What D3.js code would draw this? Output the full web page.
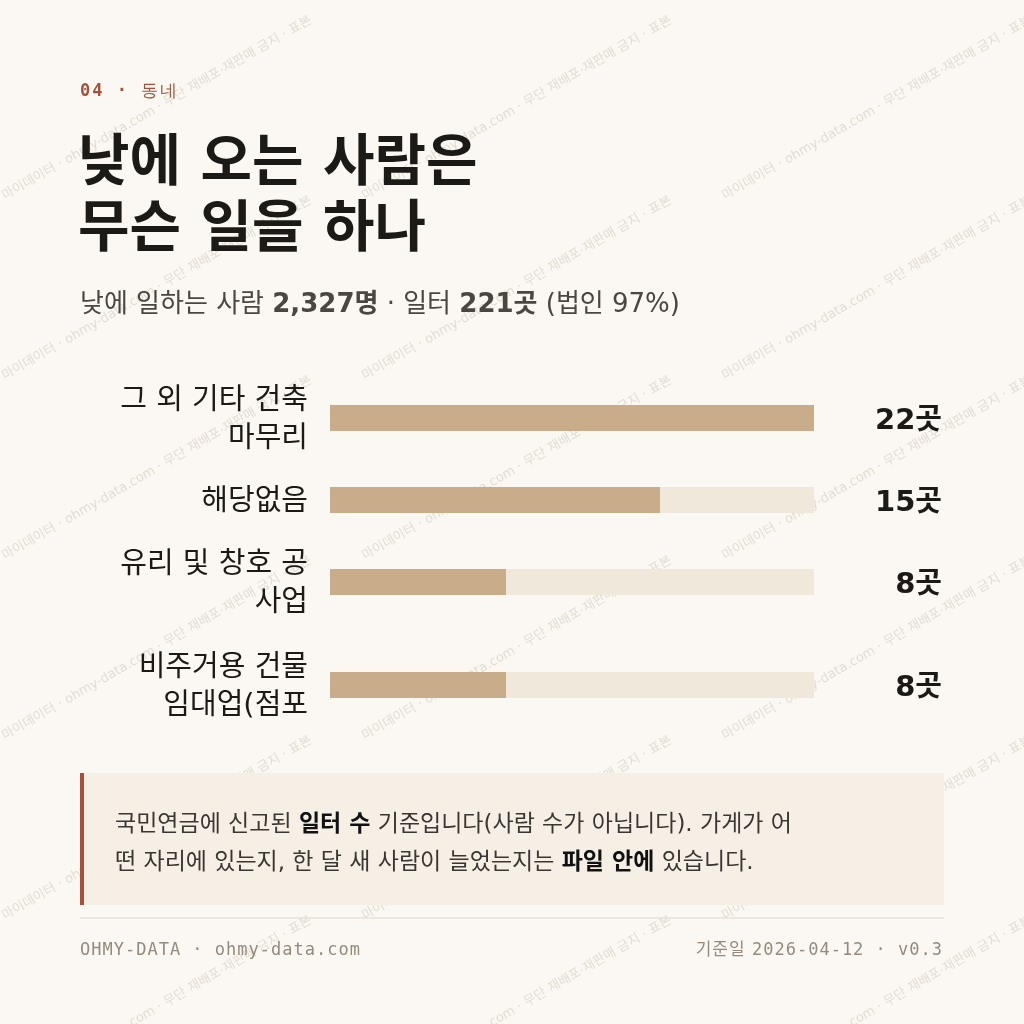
<!DOCTYPE html>
<html><head><meta charset="utf-8">
<script src="https://cdn.jsdelivr.net/npm/d3@7"></script>
<style>
body{margin:0;background:#fbf8f3;font-family:"DejaVu Sans","Noto Sans CJK KR",sans-serif;}
</style></head>
<body><div id="chart"></div>
<script>
// data
var categories = [["그 외 기타 건축", "마무리"], ["해당없음"], ["유리 및 창호 공", "사업"], ["비주거용 건물", "임대업(점포"]];
var counts = [22, 15, 8, 8];
var rowCenters = [418, 500, 582, 685];
var unit = "곳";

var W = 1024, H = 1024;
var svg = d3.select("#chart").append("svg").attr("width", W).attr("height", H)
  .attr("font-family", "DejaVu Sans, Noto Sans CJK KR, sans-serif");
svg.append("rect").attr("width", W).attr("height", H).attr("fill", "#fbf8f3");

// watermark
var wm = svg.append("g").attr("fill", "#dcd5cb").attr("font-size", 13).attr("opacity", 0.8);
var wmText = "마이데이터 · ohmy-data.com · 무단 재배포·재판매 금지 · 표본";
for (var r = 0; r < 6; r++) {
  for (var c = 0; c < 3; c++) {
    wm.append("text").attr("transform", "translate(" + (c * 360 + 5) + "," + (r * 180 + 200) + ") rotate(-30)").text(wmText);
  }
}

svg.append("text").attr("x", 80).attr("y", 96).attr("fill", "#a0533a").attr("font-size", 17)
  .attr("font-family", "DejaVu Sans Mono").attr("letter-spacing", 2).attr("font-weight", "bold").text("04 · ")
  .append("tspan").attr("font-weight", "normal").text("동네");

var title = svg.append("text").attr("fill", "#1c1a17").attr("font-size", 56).attr("font-weight", "bold");
title.append("tspan").attr("x", 78).attr("y", 180).text("낮에 오는 사람은");
title.append("tspan").attr("x", 78).attr("y", 246).text("무슨 일을 하나");

var sub = svg.append("text").attr("x", 80).attr("y", 312).attr("fill", "#4a4640").attr("font-size", 26);
sub.append("tspan").text("낮에 일하는 사람 ");
sub.append("tspan").attr("font-weight", "bold").text("2,327명");
sub.append("tspan").text(" · 일터 ");
sub.append("tspan").attr("font-weight", "bold").text("221곳");
sub.append("tspan").text(" (법인 97%)");

var x = d3.scaleLinear().domain([0, d3.max(counts)]).range([330, 814]);
var barH = 26;

var rows = svg.selectAll("g.row").data(counts).enter().append("g").attr("class", "row");
rows.append("rect").attr("x", x(0)).attr("y", function(d, i){ return rowCenters[i] - barH/2; })
  .attr("width", x(d3.max(counts)) - x(0)).attr("height", barH).attr("fill", "#f1e8dc");
rows.append("rect").attr("x", x(0)).attr("y", function(d, i){ return rowCenters[i] - barH/2; })
  .attr("width", function(d){ return x(d) - x(0); }).attr("height", barH).attr("fill", "#c9ac89");
rows.append("text").attr("x", 942).attr("y", function(d, i){ return rowCenters[i] + 11; })
  .attr("text-anchor", "end").attr("font-size", 29).attr("font-weight", "bold").attr("fill", "#1c1a17")
  .text(function(d){ return d + unit; });
rows.each(function(d, i){
  var lines = categories[i];
  var t = d3.select(this).append("text").attr("text-anchor", "end").attr("font-size", 29).attr("fill", "#1c1a17");
  var y0 = rowCenters[i] - (lines.length - 1) * 19 + 10;
  lines.forEach(function(l, j){ t.append("tspan").attr("x", 308).attr("y", y0 + j * 38).text(l); });
});

// note box
svg.append("rect").attr("x", 80).attr("y", 773).attr("width", 864).attr("height", 132).attr("fill", "#f6efe6");
svg.append("rect").attr("x", 80).attr("y", 773).attr("width", 4).attr("height", 132).attr("fill", "#a0533a");
var n1 = svg.append("text").attr("x", 115).attr("y", 831).attr("font-size", 23).attr("fill", "#3a3631");
n1.append("tspan").text("국민연금에 신고된 ");
n1.append("tspan").attr("font-weight", "bold").attr("fill", "#111").text("일터 수");
n1.append("tspan").text(" 기준입니다(사람 수가 아닙니다). 가게가 어");
var n2 = svg.append("text").attr("x", 115).attr("y", 869).attr("font-size", 23).attr("fill", "#3a3631");
n2.append("tspan").text("떤 자리에 있는지, 한 달 새 사람이 늘었는지는 ");
n2.append("tspan").attr("font-weight", "bold").attr("fill", "#111").text("파일 안에");
n2.append("tspan").text(" 있습니다.");

svg.append("line").attr("x1", 80).attr("x2", 944).attr("y1", 918).attr("y2", 918).attr("stroke", "#e8e1d6").attr("stroke-width", 1.5);
svg.append("text").attr("x", 80).attr("y", 955).attr("font-family", "DejaVu Sans Mono").attr("font-size", 17)
  .attr("fill", "#948a7e").attr("letter-spacing", 1).text("OHMY-DATA · ohmy-data.com");
var ft = svg.append("text").attr("x", 943).attr("y", 955).attr("text-anchor", "end").attr("font-size", 17)
  .attr("fill", "#948a7e").attr("letter-spacing", 1);
ft.append("tspan").text("기준일 ");
ft.append("tspan").attr("font-family", "DejaVu Sans Mono").text("2026-04-12 · v0.3");
</script></body></html>
